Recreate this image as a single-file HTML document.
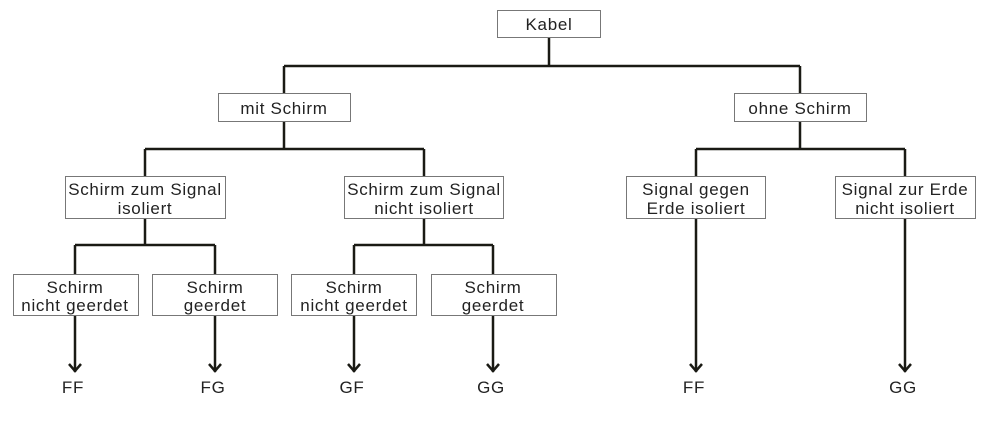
<!DOCTYPE html>
<html><head><meta charset="utf-8"><style>
body{margin:0;background:#fff;width:994px;height:430px;overflow:hidden}
svg text{font-family:"Liberation Sans",sans-serif;fill:#222;letter-spacing:0.7px}
</style></head><body>
<svg width="994" height="430" viewBox="0 0 994 430">
<g fill="none" stroke="#1a1a14" stroke-width="2.5">
<path d="M549 37V66M284 66H800M284 66V93M800 66V93"/>
<path d="M284 121V149M145 149H424M145 149V176M424 149V176"/>
<path d="M800 121V149M696 149H905M696 149V176M905 149V176"/>
<path d="M145 218V245M75 245H215M75 245V274M215 245V274"/>
<path d="M424 218V245M354 245H493M354 245V274M493 245V274"/>
<path d="M75 315V372M215 315V372M354 315V372M493 315V372M696 218V372M905 218V372"/>
<path d="M69 364L75 371L81 364M209 364L215 371L221 364M348 364L354 371L360 364M487 364L493 371L499 364M690 364L696 371L702 364M899 364L905 371L911 364"/>
</g>
<g fill="#fff" stroke="#777" stroke-width="1">
<rect x="497.5" y="10.5" width="103" height="27"/>
<rect x="218.5" y="93.5" width="132" height="28"/>
<rect x="734.5" y="93.5" width="132" height="28"/>
<rect x="65.5" y="176.5" width="160" height="42"/>
<rect x="344.5" y="176.5" width="159" height="42"/>
<rect x="626.5" y="176.5" width="139" height="42"/>
<rect x="835.5" y="176.5" width="140" height="42"/>
<rect x="13.5" y="274.5" width="125" height="41"/>
<rect x="152.5" y="274.5" width="125" height="41"/>
<rect x="291.5" y="274.5" width="125" height="41"/>
<rect x="431.5" y="274.5" width="125" height="41"/>
</g>
<g font-size="17" text-anchor="middle">
<text x="549" y="30">Kabel</text>
<text x="284" y="114">mit Schirm</text>
<text x="800" y="114">ohne Schirm</text>
<text x="145" y="195">Schirm zum Signal</text><text x="145" y="214">isoliert</text>
<text x="424" y="195">Schirm zum Signal</text><text x="424" y="214">nicht isoliert</text>
<text x="696" y="195">Signal gegen</text><text x="696" y="214">Erde isoliert</text>
<text x="905" y="195">Signal zur Erde</text><text x="905" y="214">nicht isoliert</text>
<text x="75" y="293">Schirm</text><text x="75" y="311">nicht geerdet</text>
<text x="215" y="293">Schirm</text><text x="215" y="311">geerdet</text>
<text x="354" y="293">Schirm</text><text x="354" y="311">nicht geerdet</text>
<text x="493" y="293">Schirm</text><text x="493" y="311">geerdet</text>
<text x="73" y="393">FF</text><text x="213" y="393">FG</text><text x="352" y="393">GF</text>
<text x="491" y="393">GG</text><text x="694" y="393">FF</text><text x="903" y="393">GG</text>
</g>
</svg>
</body></html>
